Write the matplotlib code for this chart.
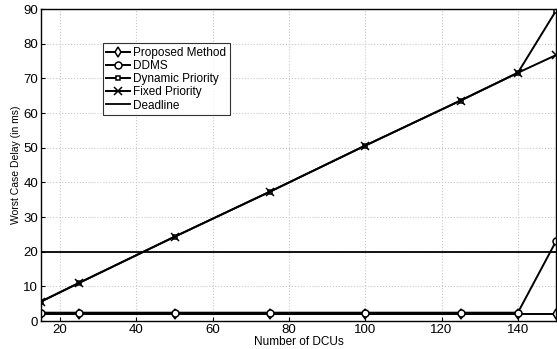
import numpy as np
import matplotlib.pyplot as plt

plt.rcParams['font.family'] = ['Liberation Sans', 'DejaVu Sans']

# data
dcus = [15, 25, 50, 75, 100, 125, 140, 150]
proposed = [1.9, 1.9, 1.9, 1.9, 1.9, 1.9, 1.9, 1.9]
ddms = [2.4, 2.4, 2.4, 2.4, 2.4, 2.4, 2.4, 23.0]
dynamic = [5.6, 11.0, 24.3, 37.3, 50.6, 63.6, 71.6, 89.5]
fixed = [5.6, 11.0, 24.3, 37.3, 50.6, 63.6, 71.6, 76.7]
deadline = 20

fig = plt.figure(figsize=(5.57, 3.49), dpi=100)
ax = fig.add_axes([41/557, 1-321/349, 515/557, 312/349])

kw = dict(color='black', lw=1.4, markerfacecolor='white', markeredgecolor='black', markersize=5, mew=1.1)
ax.plot(dcus, proposed, marker='d', label='Proposed Method', **kw)
ax.plot(dcus, ddms, marker='o', label='DDMS', **kw)
ax.plot(dcus, dynamic, marker='s', label='Dynamic Priority', **dict(kw, markersize=3.5))
ax.plot(dcus, fixed, marker='x', label='Fixed Priority', **dict(kw, markersize=6))
ax.axhline(deadline, color='black', lw=1.3, label='Deadline')

ax.set_xlim(15, 150)
ax.set_ylim(0, 90)
ax.set_xticks([20, 40, 60, 80, 100, 120, 140])
ax.set_yticks(np.arange(0, 91, 10))
ax.grid(True, linestyle=':', color='#c8c8c8', lw=0.8)
ax.tick_params(labelsize=9.5, direction='in', length=3, pad=2)
for s in ax.spines.values():
    s.set_linewidth(1.0)

ax.set_xlabel('Number of DCUs', fontsize=8.5, labelpad=0)
ax.set_ylabel('Worst Case Delay (in ms)', fontsize=7.5, labelpad=2)

leg = ax.legend(loc='upper left', bbox_to_anchor=(0.12, 0.89), borderaxespad=0, fontsize=8.5,
                frameon=True, fancybox=False, edgecolor='black', handlelength=2.0,
                borderpad=0.3, labelspacing=0.1, handletextpad=0.3)
leg.get_frame().set_linewidth(0.8)

plt.savefig('out.png', dpi=100)
